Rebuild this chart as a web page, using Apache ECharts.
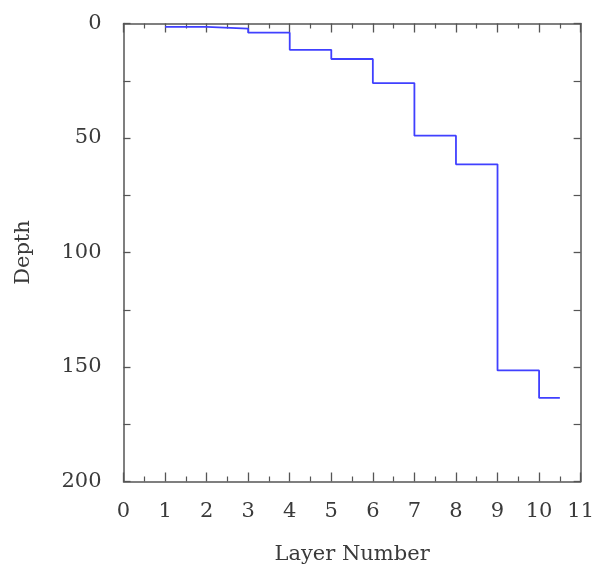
<!DOCTYPE html>
<html>
<head>
<meta charset="utf-8">
<script src="https://cdn.jsdelivr.net/npm/echarts@6/dist/echarts.min.js"></script>
<style>
  html, body { margin: 0; padding: 0; background: #fff; }
  #chart { width: 597px; height: 571px; }
</style>
</head>
<body>
<div id="chart"></div>
<script>
  // layer boundaries (x) and depth of each step, last point closes the final step
  var layerNumber = [1, 2, 3, 4, 5, 6, 7, 8, 9, 10, 10.5];
  var depth = [1.5, 2.2, 4, 11.5, 15.5, 26, 49, 61.5, 151.5, 163.5, 163.5];
  var xTicks = [0, 1, 2, 3, 4, 5, 6, 7, 8, 9, 10, 11];
  var yTicks = [0, 50, 100, 150, 200];

  var font = '"DejaVu Serif", "Liberation Serif", serif';
  var textColor = '#3a3a3a';
  var axisColor = '#555';

  var chart = echarts.init(document.getElementById('chart'));

  var points = layerNumber.map(function (x, i) { return [x, depth[i]]; });

  function xAxisBase(pos, showLabel) {
    return {
      type: 'value',
      position: pos,
      min: xTicks[0],
      max: xTicks[xTicks.length - 1],
      interval: 1,
      axisLine: { show: true, onZero: false, lineStyle: { color: axisColor, width: 1.5 } },
      axisTick: { show: true, inside: true, length: 9, lineStyle: { color: axisColor, width: 1.3 } },
      minorTick: { show: true, splitNumber: 2, length: 5, lineStyle: { color: axisColor, width: 1.2 } },
      splitLine: { show: false },
      minorSplitLine: { show: false },
      axisLabel: { show: showLabel, margin: 20, color: textColor, fontFamily: font, fontSize: 21 }
    };
  }

  function yAxisBase(pos, showLabel) {
    return {
      type: 'value',
      position: pos,
      inverse: true,
      min: yTicks[0],
      max: yTicks[yTicks.length - 1],
      interval: 50,
      axisLine: { show: true, onZero: false, lineStyle: { color: axisColor, width: 1.5 } },
      axisTick: { show: true, inside: true, length: 7, lineStyle: { color: axisColor, width: 1.3 } },
      minorTick: { show: true, splitNumber: 2, length: 7, lineStyle: { color: axisColor, width: 1.2 } },
      splitLine: { show: false },
      minorSplitLine: { show: false },
      axisLabel: { show: showLabel, margin: 22, color: textColor, fontFamily: font, fontSize: 21 }
    };
  }

  var xBottom = xAxisBase('bottom', true);
  xBottom.name = 'Layer Number';
  xBottom.nameLocation = 'middle';
  xBottom.nameGap = 63;
  xBottom.nameTextStyle = { color: textColor, fontFamily: font, fontSize: 21 };

  var yLeft = yAxisBase('left', true);
  yLeft.name = 'Depth';
  yLeft.nameLocation = 'middle';
  yLeft.nameGap = 89;
  yLeft.nameTextStyle = { color: textColor, fontFamily: font, fontSize: 21 };

  var option = {
    backgroundColor: '#ffffff',
    animation: false,
    grid: { left: 123.5, right: 16, top: 23.5, bottom: 89.5, containLabel: false },
    xAxis: [xBottom, xAxisBase('top', false)],
    yAxis: [yLeft, yAxisBase('right', false)],
    series: [{
      type: 'line',
      step: 'end',
      xAxisIndex: 0,
      yAxisIndex: 0,
      showSymbol: false,
      lineStyle: { color: '#4040ff', width: 1.8 },
      data: points
    }]
  };

  chart.setOption(option);
</script>
</body>
</html>
